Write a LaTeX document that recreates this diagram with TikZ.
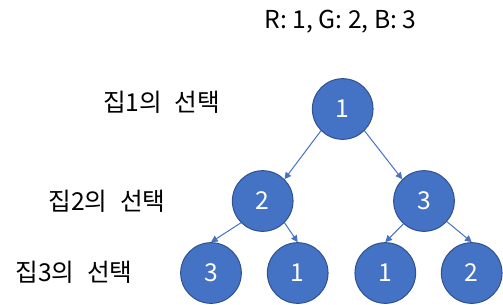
\documentclass[tikz,border=0pt]{standalone}
\usepackage{fontspec}
\setmainfont{Noto Sans CJK KR}
\usetikzlibrary{arrows.meta}
\definecolor{nodefill}{HTML}{4472C4}
\definecolor{nodeedge}{HTML}{2F528F}
\newcommand{\wsp}{\hspace{0.5em}}
\tikzset{
  vnode/.style={circle, fill=nodefill, draw=nodeedge, line width=0.75pt, minimum size=45.5pt, inner sep=0pt, text=white, font=\fontsize{18.5}{22}\selectfont},
  lbl/.style={font=\fontsize{18.5}{22}\selectfont, inner sep=0pt},
  conn/.style={draw=nodefill, line width=0.75pt, -{Triangle[length=5pt,width=5pt]}}
}
\begin{document}
\begin{tikzpicture}[x=0.75pt,y=-0.75pt]
\useasboundingbox (0,0) rectangle (503,304);
\node[lbl] (title) at (340.5,22) {R: 1, G: 2, B: 3};
\node[lbl] (l1) at (161.5,102) {집1의\wsp 선택};
\node[lbl] (l2) at (107,201) {집2의\wsp 선택};
\node[lbl] (l3) at (74,272) {집3의\wsp 선택};
\node[vnode] (a) at (342.7,109) {1};
\node[vnode] (b) at (262.7,201) {2};
\node[vnode] (c) at (424,201) {3};
\node[vnode] (d) at (211,273) {3};
\node[vnode] (e) at (297.7,273) {1};
\node[vnode] (f) at (385.3,273) {1};
\node[vnode] (g) at (471.7,273) {2};
\draw[conn] (a.225) -- (b.45);
\draw[conn] (a.315) -- (c.135);
\draw[conn] (b.225) -- (d.north);
\draw[conn] (b.315) -- (e.north);
\draw[conn] (c.228) -- (f.north);
\draw[conn] (c.318) -- (g.north);
\end{tikzpicture}
\end{document}
